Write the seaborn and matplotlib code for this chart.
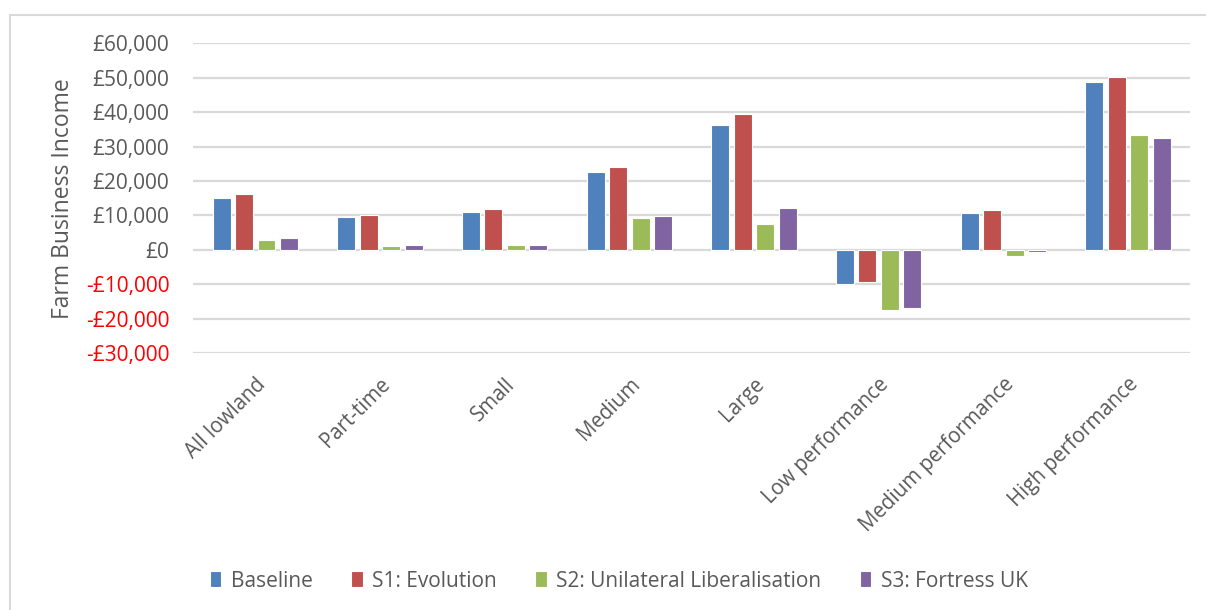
import matplotlib
matplotlib.use("Agg")
import matplotlib.pyplot as plt
from matplotlib.patches import Rectangle
from matplotlib.ticker import FuncFormatter, MultipleLocator
import seaborn as sns
import pandas as pd

# Farm Business Income by farm group under each scenario (GBP)
categories = ["All lowland", "Part-time", "Small", "Medium", "Large",
              "Low performance", "Medium performance", "High performance"]
scenarios = ["Baseline", "S1: Evolution", "S2: Unilateral Liberalisation", "S3: Fortress UK"]
baseline = [15200, 9600, 10900, 22600, 36400, -9900, 10700, 48700]
s1_evolution = [16300, 10100, 11800, 24100, 39400, -9300, 11700, 50200]
s2_liberalisation = [2800, 1200, 1500, 9300, 7500, -17500, -1900, 33300]
s3_fortress = [3400, 1300, 1300, 9800, 12300, -16800, -500, 32600]
colors = ["#4F81BD", "#C0504D", "#9BBB59", "#8064A2"]

series = [baseline, s1_evolution, s2_liberalisation, s3_fortress]
df = pd.DataFrame({
    "Group": [c for _ in scenarios for c in categories],
    "Scenario": [s for s in scenarios for _ in categories],
    "Income": [v for vals in series for v in vals],
})

sns.set_theme(style="white")
plt.rcParams["font.family"] = ["Open Sans", "DejaVu Sans"]

fig = plt.figure(figsize=(12.06, 6.10), dpi=100)
ax = fig.add_axes([0.160, 0.4213, 0.827, 0.5074])

sns.barplot(data=df, x="Group", y="Income", hue="Scenario", order=categories,
            hue_order=scenarios, palette=colors, width=0.72, gap=0.2,
            edgecolor="white", linewidth=0.8, saturation=1, errorbar=None,
            ax=ax, zorder=3)

ax.set_ylim(-30000, 60000)
ax.set_xlim(-0.5, len(categories) - 0.5)
ax.yaxis.set_major_locator(MultipleLocator(10000))

def pounds(v, _pos):
    v = int(round(v))
    return f"-£{abs(v):,}" if v < 0 else f"£{v:,}"

ax.yaxis.set_major_formatter(FuncFormatter(pounds))
ax.grid(axis="y", color="#D9D9D9", linewidth=1.6, zorder=0)
ax.grid(axis="x", visible=False)
for sp in ax.spines.values():
    sp.set_visible(False)

ax.tick_params(axis="y", length=0, pad=17, labelsize=15, labelcolor="#595959")
ax.tick_params(axis="x", length=0, pad=15, labelsize=14.8, labelcolor="#595959")
fig.canvas.draw()
for lbl in ax.get_yticklabels():
    if lbl.get_text().startswith("-"):
        lbl.set_color("#FF0000")
for lbl in ax.get_xticklabels():
    lbl.set_rotation(45)
    lbl.set_ha("right")
    lbl.set_rotation_mode("anchor")

ax.set_xlabel("")
ax.set_ylabel("Farm Business Income", fontsize=16.5, color="#595959", labelpad=8)

handles, labels = ax.get_legend_handles_labels()
ax.get_legend().remove()
fig.legend(handles, labels, loc="center", bbox_to_anchor=(0.513, 0.0475), ncol=4,
           frameon=False, fontsize=15, handlelength=0.55, handleheight=0.8,
           handletextpad=0.45, columnspacing=1.85, labelcolor="#595959")

# light chart-area border
fig.patches.append(Rectangle((10 / 1206, -0.05), 1.2, 0.05 + (610 - 15) / 610,
                             transform=fig.transFigure, fill=False,
                             edgecolor="#D9D9D9", linewidth=1.5))

fig.savefig("out.png", dpi=100)
